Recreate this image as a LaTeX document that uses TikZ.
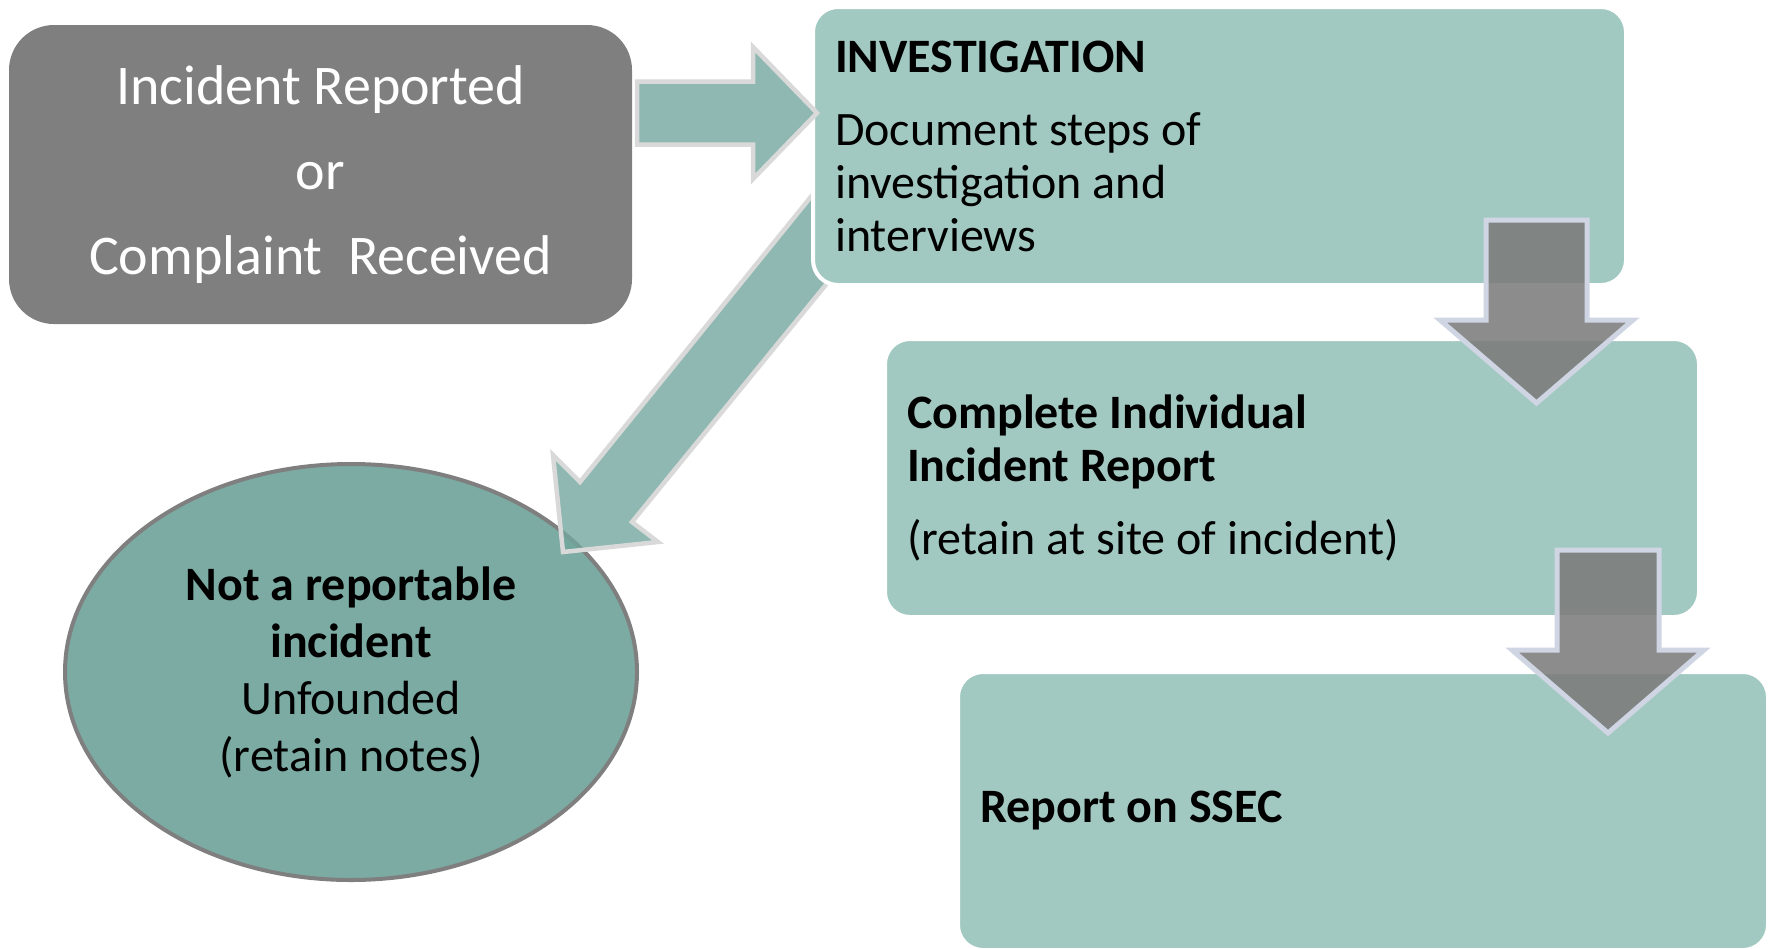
\documentclass[tikz,border=0pt]{standalone}
\usepackage{fontspec}
\setmainfont{Carlito}
\usepackage{xcolor}
\usetikzlibrary{positioning, shapes.geometric}
\definecolor{boxgray}{HTML}{7F7F7F}
\definecolor{boxteal}{HTML}{A2C9C1}
\definecolor{ovalteal}{HTML}{7BABA3}
\definecolor{arrowteal}{HTML}{72A69D}
\definecolor{arrowrim}{HTML}{D9D9D9}
\definecolor{downgray}{HTML}{7B7B7B}
\definecolor{downrim}{HTML}{CFD5E3}
\tikzset{
    startbox/.style={
        rectangle,
        rounded corners=45pt,
        fill=boxgray,
        text=white,
        minimum width=623pt,
        minimum height=299pt,
        align=center,
        font=\fontsize{56}{85}\selectfont
    },
    stagebox/.style={
        rectangle,
        rounded corners=25pt,
        draw=white,
        line width=4pt,
        fill=boxteal,
        minimum height=278pt,
        inner xsep=22pt,
        align=left,
        font=\fontsize{48}{53}\selectfont,
        execute at begin node={\spaceskip=0pt\xspaceskip=0pt}
    },
    endoval/.style={
        ellipse,
        draw=boxgray,
        line width=4pt,
        fill=ovalteal,
        minimum width=572pt,
        minimum height=416pt,
        inner sep=0pt,
        align=center,
        font=\fontsize{48}{57}\selectfont
    },
    sidearrow/.style={
        fill=arrowteal,
        fill opacity=0.8,
        draw=arrowrim,
        line width=4.5pt
    },
    downarrow/.style={
        fill=downgray,
        fill opacity=0.87,
        draw=downrim,
        line width=5pt
    }
}

\begin{document}
\begin{tikzpicture}[x=1pt, y=-1pt]
\useasboundingbox (0,0) rectangle (1769,948);

\node[startbox] (intake) at (320.5,174.5) {Incident Reported\\or\\Complaint\ \ Received};
\node[endoval] (unfounded) at (351,672) {\textbf{Not a reportable}\\\textbf{incident}\\Unfounded\\(retain notes)};

\draw[sidearrow] (842,265) -- (632,522) -- (658,542) -- (563,552) -- (553,455) -- (580,482) -- (831,172) -- cycle;

\node[stagebox, text width=769pt] (invest) at (1219.5,146) {\textbf{INVESTIGATION}\\[20pt]Document steps of\\investigation and\\interviews};

\draw[sidearrow] (637,81.5) -- (753,81.5) -- (753,47) -- (817,113) -- (753,179) -- (753,144.5) -- (637,144.5) -- cycle;

\node[stagebox, text width=770pt] (complete) at (1292,478) {\textbf{Complete Individual}\\\textbf{Incident Report}\\[20pt](retain at site of incident)};
\node[stagebox, text width=766pt] (report) at (1363,811) {\textbf{Report on SSEC}};

\draw[downarrow] (1486,220) -- (1587,220) -- (1587,320) -- (1633,320) -- (1536.5,403) -- (1440,320) -- (1486,320) -- cycle;
\draw[downarrow] (1557,550) -- (1659,550) -- (1659,650) -- (1704,650) -- (1608,733) -- (1512,650) -- (1557,650) -- cycle;

\end{tikzpicture}
\end{document}
